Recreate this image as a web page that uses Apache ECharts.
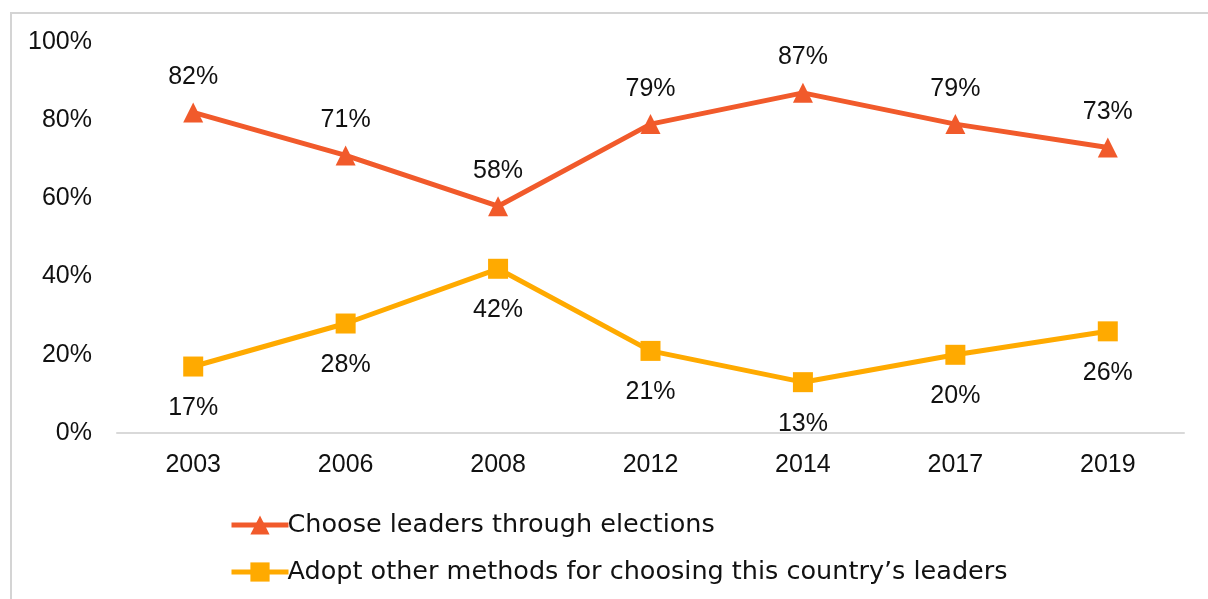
<!DOCTYPE html>
<html>
<head>
<meta charset="utf-8">
<script src="https://cdn.jsdelivr.net/npm/echarts@6/dist/echarts.min.js"></script>
<style>
  html, body { margin: 0; padding: 0; background: #fff; }
  #frame { position: absolute; left: 10px; top: 12px; width: 1300px; height: 700px; border: 2px solid #d4d4d4; box-sizing: border-box; }
  #chart { position: absolute; left: 0; top: 0; width: 1208px; height: 599px; }
</style>
</head>
<body>
<div id="frame"></div>
<div id="chart"></div>
<script>
// chart data
const years = ['2003', '2006', '2008', '2012', '2014', '2017', '2019']
const elections = [82, 71, 58, 79, 87, 79, 73]
const otherMethods = [17, 28, 42, 21, 13, 20, 26]
const yTicks = [0, 20, 40, 60, 80, 100]

const numFont = 'Liberation Sans'
const chart = echarts.init(document.getElementById('chart'), null, { renderer: 'canvas' })

chart.setOption({
  animation: false,
  backgroundColor: 'transparent',
  grid: { left: 117, right: 24, top: 42, bottom: 166 },
  legend: {
    orient: 'vertical',
    left: 224,
    top: 505,
    itemWidth: 57,
    itemHeight: 24,
    itemGap: 17,
    lineStyle: { width: 5 },
    textStyle: { fontFamily: 'DejaVu Sans', fontSize: 25.5, color: '#111', lineHeight: 30, padding: [0, 0, 0, -6] },
    data: ['Choose leaders through elections', 'Adopt other methods for choosing this country\u2019s leaders']
  },
  xAxis: {
    type: 'category',
    data: years,
    axisLine: { lineStyle: { color: '#d9d9d9', width: 2 } },
    axisTick: { show: false },
    axisLabel: { fontFamily: numFont, fontSize: 25, color: '#111', margin: 20 }
  },
  yAxis: {
    type: 'value',
    min: yTicks[0],
    max: yTicks[yTicks.length - 1],
    interval: 20,
    splitLine: { show: false },
    axisLine: { show: false },
    axisTick: { show: false },
    axisLabel: { fontFamily: numFont, fontSize: 25, color: '#111', margin: 25, formatter: '{value}%' }
  },
  series: [{
    name: 'Choose leaders through elections',
    type: 'line',
    data: elections,
    symbol: 'triangle',
    symbolSize: 20,
    color: '#F15A2B',
    lineStyle: { width: 5, color: '#F15A2B' },
    itemStyle: { color: '#F15A2B' },
    label: { show: true, position: 'top', distance: 13, formatter: '{c}%', fontFamily: numFont, fontSize: 25, color: '#111' }
  }, {
    name: 'Adopt other methods for choosing this country\u2019s leaders',
    type: 'line',
    data: otherMethods,
    symbol: 'rect',
    symbolSize: 20,
    color: '#FFAA00',
    lineStyle: { width: 5, color: '#FFAA00' },
    itemStyle: { color: '#FFAA00' },
    label: { show: true, position: 'bottom', distance: 19, formatter: '{c}%', fontFamily: numFont, fontSize: 25, color: '#111' }
  }]
})
</script>
</body>
</html>
